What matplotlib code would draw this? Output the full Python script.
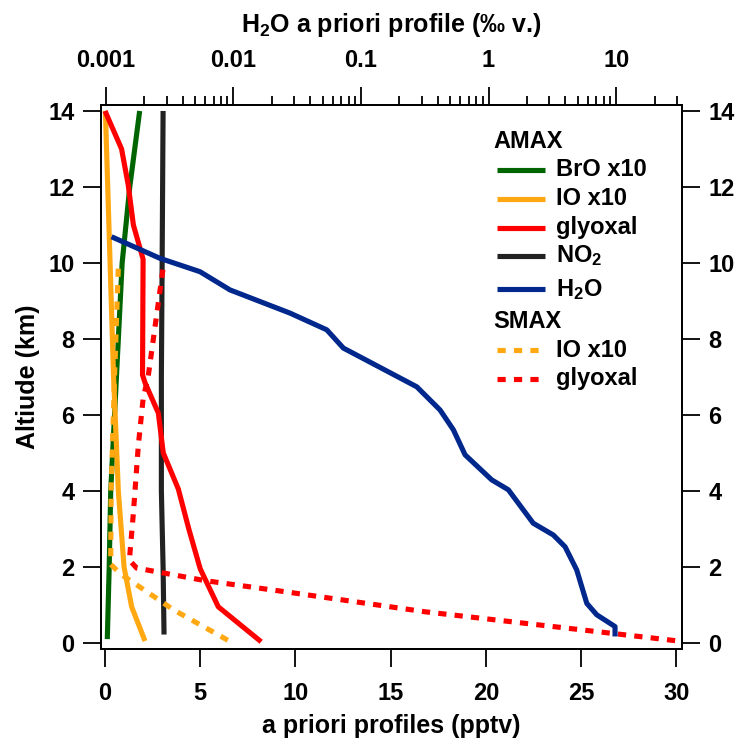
import matplotlib
matplotlib.use("Agg")
import matplotlib.pyplot as plt
from matplotlib.lines import Line2D
from matplotlib.ticker import FixedLocator, LogLocator, NullFormatter, FuncFormatter

plt.rcParams['font.family'] = ['Liberation Sans', 'DejaVu Sans']
plt.rcParams['font.weight'] = 'bold'
plt.rcParams['axes.labelweight'] = 'bold'
plt.rcParams['mathtext.fontset'] = 'custom'
plt.rcParams['mathtext.rm'] = 'Liberation Sans:bold'
plt.rcParams['mathtext.it'] = 'Liberation Sans:bold'
plt.rcParams['mathtext.bf'] = 'Liberation Sans:bold'

# AMAX a priori profiles (pptv) vs altitude (km)
bro_alt = [0.1, 2, 4, 7, 10, 12, 14]
bro_val = [0.12, 0.22, 0.3, 0.6, 0.9, 1.3, 1.82]

io_alt = [0.05, 0.95, 2.0, 4.0, 7.0, 14.0]
io_val = [2.1, 1.4, 1.0, 0.7, 0.45, 0.02]

gly_alt = [0.03, 0.95, 1.95, 3.0, 4.05, 5.0, 6.05, 6.85, 7.05, 10.1, 11.0, 12.05, 13.0, 14.0]
gly_val = [8.2, 5.95, 5.0, 4.4, 3.85, 3.06, 2.8, 2.1, 1.97, 2.0, 1.49, 1.22, 0.87, 0.0]

no2_alt = [0.22, 2, 4, 7, 10, 14]
no2_val = [3.1, 3.05, 2.96, 2.96, 3.0, 3.05]

# H2O a priori profile (per mille v.) - top log axis
h2o_alt = [0.17, 0.43, 0.74, 1.04, 1.92, 2.53, 2.84, 3.15, 4.03, 4.29, 4.95, 5.61,
           6.13, 6.74, 7.76, 8.24, 8.68, 9.29, 9.77, 10.12, 10.69]
h2o_val = [9.8, 9.8, 7.05, 5.89, 4.91, 3.98, 3.22, 2.24, 1.43, 1.06, 0.655, 0.53,
           0.417, 0.274, 0.0728, 0.054, 0.0278, 0.00942, 0.00548, 0.00267, 0.00111]

# SMAX a priori profiles
io_s_alt = [0.07, 0.87, 1.82, 2.07, 4.0, 7.0, 9.9]
io_s_val = [6.45, 3.6, 0.8, 0.3, 0.32, 0.5, 0.7]

gly_s_alt = [0.06, 0.82, 1.33, 1.64, 1.97, 2.18, 3.42, 5.2, 6.42, 7.02, 9.9]
gly_s_val = [29.94, 16.8, 9.7, 5.25, 1.66, 1.28, 1.49, 1.75, 2.0, 2.27, 3.06]

c_green = '#006400'
c_orange = '#FFA812'
c_red = '#FF0000'
c_black = '#222222'
c_blue = '#00288C'
lw = 3.7
dot = (0, (1.6, 1.6))

fig = plt.figure(figsize=(7.4, 7.44), dpi=100)
ax = fig.add_axes([0.1365, 0.1277, 0.7851, 0.7308])

ax.plot(no2_val, no2_alt, color=c_black, lw=lw, solid_capstyle='butt')
ax.plot(bro_val, bro_alt, color=c_green, lw=lw, solid_capstyle='butt')
ax.plot(io_val, io_alt, color=c_orange, lw=lw, solid_capstyle='butt')
ax.plot(io_s_val, io_s_alt, color=c_orange, lw=lw, linestyle=dot, dash_capstyle='butt')
ax.plot(gly_val, gly_alt, color=c_red, lw=lw, solid_capstyle='butt')
ax.plot(gly_s_val, gly_s_alt, color=c_red, lw=lw, linestyle=dot, dash_capstyle='butt')

ax.set_xlim(-0.21, 30.3)
ax.set_ylim(-0.16, 14.15)
ax.set_xticks([0, 5, 10, 15, 20, 25, 30])
ax.set_yticks([0, 2, 4, 6, 8, 10, 12, 14])
ax.tick_params(axis='x', direction='out', length=13, width=1.3, pad=11, labelsize=17)
ax.tick_params(axis='y', direction='out', length=13, width=1.3, pad=6, labelsize=17,
               right=True, labelright=True)
ax.set_xlabel('a priori profiles (pptv)', fontsize=18, labelpad=6)
ax.set_ylabel('Altiude (km)', fontsize=18, labelpad=6)
for s in ax.spines.values():
    s.set_linewidth(1.3)

# top axis for H2O (log)
ax2 = ax.twiny()
ax2.plot(h2o_val, h2o_alt, color=c_blue, lw=lw, solid_capstyle='butt')
ax2.set_xscale('log')
ax2.set_xlim(10 ** -3.037, 10 ** 1.516)
ax2.xaxis.set_major_locator(FixedLocator([0.001, 0.01, 0.1, 1, 10]))
ax2.xaxis.set_major_formatter(FuncFormatter(lambda v, p: '%g' % v))
ax2.xaxis.set_minor_locator(LogLocator(base=10, subs=[2, 3, 4, 5, 6, 7, 8, 9], numticks=20))
ax2.xaxis.set_minor_formatter(NullFormatter())
ax2.tick_params(axis='x', which='major', direction='out', length=13, width=1.3, pad=11, labelsize=17)
ax2.tick_params(axis='x', which='minor', direction='out', length=6.5, width=1.3)
ax2.set_xlabel('H$_\\mathrm{2}$O a priori profile (‰ v.)', fontsize=18, labelpad=12)
for s in ax2.spines.values():
    s.set_linewidth(1.3)

# legend drawn by hand so that headers sit flush left
lx0, lx1, tx = 0.682, 0.764, 0.783
hx = 0.676
fs = 17
ax.text(hx, 0.934, 'AMAX', transform=ax.transAxes, fontsize=fs, va='center', ha='left')
ax.text(hx, 0.603, 'SMAX', transform=ax.transAxes, fontsize=fs, va='center', ha='left')
entries = [
    (0.881, c_green, '-', 'BrO x10'),
    (0.828, c_orange, '-', 'IO x10'),
    (0.775, c_red, '-', 'glyoxal'),
    (0.723, c_black, '-', 'NO$_\\mathrm{2}$'),
    (0.662, c_blue, '-', 'H$_\\mathrm{2}$O'),
    (0.549, c_orange, dot, 'IO x10'),
    (0.497, c_red, dot, 'glyoxal'),
]
for yy, col, ls, lab in entries:
    ax.add_line(Line2D([lx0, lx1], [yy, yy], transform=ax.transAxes, color=col, lw=lw,
                       linestyle=ls, solid_capstyle='butt', dash_capstyle='butt'))
    ax.text(tx, yy, lab, transform=ax.transAxes, fontsize=fs, va='center', ha='left')

fig.savefig('out.png', dpi=100)
